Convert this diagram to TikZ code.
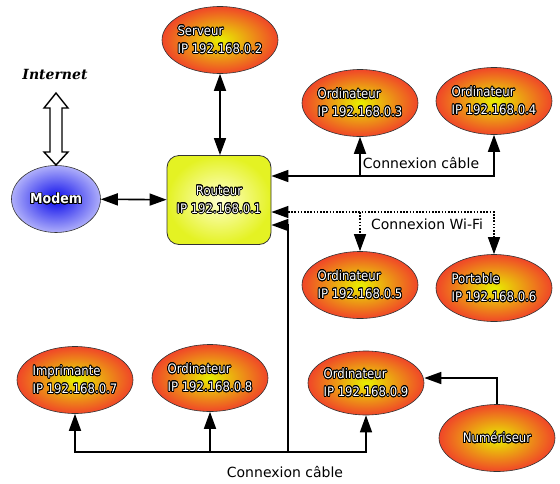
\documentclass[tikz,border=0pt]{standalone}
\usepackage{fontspec}
\setmainfont{DejaVu Sans}
\newfontfamily\nodefont{DejaVu Sans Condensed}
\newfontfamily\netfont{DejaVu Serif}
\usepackage{contour}
\contourlength{0.8pt}
\usetikzlibrary{arrows.meta,shapes.geometric,calc}
\definecolor{orbin}{RGB}{232,240,0}
\definecolor{orbout}{RGB}{240,70,40}
\definecolor{modin}{RGB}{10,10,235}
\definecolor{modout}{RGB}{175,175,250}
\definecolor{rtin}{RGB}{255,255,205}
\definecolor{rtout}{RGB}{228,242,35}
\pgfdeclareradialshading{orb}{\pgfpoint{0cm}{0cm}}{color(0bp)=(orbin); color(25bp)=(orbout); color(50bp)=(orbout)}
\pgfdeclareradialshading{modsh}{\pgfpoint{0cm}{0cm}}{color(0bp)=(modin); color(25bp)=(modout); color(50bp)=(modout)}
\pgfdeclareradialshading{rtsh}{\pgfpoint{0cm}{0cm}}{color(0bp)=(rtin); color(25bp)=(rtout); color(50bp)=(rtout)}
\newcommand\wt[1]{\contour{black}{#1}}
\begin{document}
\begin{tikzpicture}[x=1pt,y=-1pt,
  >={Triangle[length=17pt,width=12pt]},
  conn/.style={line width=1.6pt},
  wifi/.style={line width=1.3pt, dash pattern=on 1.6pt off 1.6pt},
  dev/.style={ellipse, draw=black!80, line width=0.6pt, minimum width=116pt, minimum height=67pt, inner sep=0pt, shading=orb},
  lab/.style={text=white, align=left, inner sep=0pt, font=\nodefont\fontsize{13}{18}\selectfont},
  lbl/.style={inner sep=1pt, font=\fontsize{14}{16}\selectfont}]
\useasboundingbox (0,0) rectangle (560,483);
% devices
\node[dev] (serv) at (220,40) {};
\node[lab] (servt) at (serv) {\wt{Serveur}\\\wt{IP 192.168.0.2}};
\node[dev] (o3) at (360,103) {};
\node[lab] (o3t) at (o3) {\wt{Ordinateur}\\\wt{IP 192.168.0.3}};
\node[dev] (o4) at (494,101) {};
\node[lab] (o4t) at (o4) {\wt{Ordinateur}\\\wt{IP 192.168.0.4}};
\node[dev] (o5) at (360,285) {};
\node[lab] (o5t) at (o5) {\wt{Ordinateur}\\\wt{IP 192.168.0.5}};
\node[dev] (p6) at (494,288) {};
\node[lab] (p6t) at (p6) {\wt{Portable}\\\wt{IP 192.168.0.6}};
\node[dev] (impr) at (75,380) {};
\node[lab] (imprt) at (impr) {\wt{Imprimante}\\\wt{IP 192.168.0.7}};
\node[dev] (o8) at (210,378) {};
\node[lab] (o8t) at (o8) {\wt{Ordinateur}\\\wt{IP 192.168.0.8}};
\node[dev, minimum height=64pt] (o9) at (366,383) {};
\node[lab] (o9t) at (o9) {\wt{Ordinateur}\\\wt{IP 192.168.0.9}};
\node[dev] (num) at (497,438) {};
\node[lab] (numt) at (num) {\wt{Numériseur}};
\node[ellipse, draw=black!80, line width=0.6pt, minimum width=89pt, minimum height=67pt, inner sep=0pt, shading=modsh] (modem) at (56,199) {};
\node[lab, font=\nodefont\bfseries\fontsize{14}{16}\selectfont] (modemt) at (modem) {\wt{Modem}};
\node[rectangle, rounded corners=12pt, draw=black!80, line width=0.8pt, minimum width=104pt, minimum height=89pt, shading=rtsh] (rout) at (219,200) {};
\node[lab, align=center] (routt) at (rout) {\wt{Routeur}\\\wt{IP 192.168.0.1}};
% Internet
\node[font=\netfont\bfseries\itshape\fontsize{14}{16}\selectfont, inner sep=0pt] (inet) at (55,74) {Internet};
\draw[line width=1.4pt, fill=white] (56,93) -- (68,108) -- (62,108) -- (62,152) -- (68,152) -- (56,165) -- (44,152) -- (50,152) -- (50,108) -- (44,108) -- cycle;
% connections
\draw[conn,<->] (modem) -- (rout);
\draw[conn,<->] (serv.south) -- (serv.south |- rout.north);
\coordinate (r1) at ($(rout.east)+(0,-24)$);
\draw[conn,<->] (o4.south) |- (r1);
\draw[conn,->] (o3.south |- r1) -- (o3.south);
\coordinate (r2) at ($(rout.east)+(0,12)$);
\draw[wifi,<->] (r2) -| (p6.north);
\draw[wifi,->] (o5.north |- r2) -- (o5.north);
\coordinate (r3) at ($(rout.east)+(0,25)$);
\coordinate (b0) at (288,452);
\draw[conn,->] (b0) |- (r3);
\draw[conn,<->] (impr.south) |- (b0) -| (o9.south);
\draw[conn,->] (o8.south |- b0) -- (o8.south);
\draw[conn,->] (num.north) |- ($(o9.east)+(0,-5)$);
% labels
\node[lbl] (lc1) at (421,163) {Connexion câble};
\node[lbl] (lw) at (427,224) {Connexion Wi-Fi};
\node[lbl] (lc2) at (285,472) {Connexion câble};
\end{tikzpicture}
\end{document}
